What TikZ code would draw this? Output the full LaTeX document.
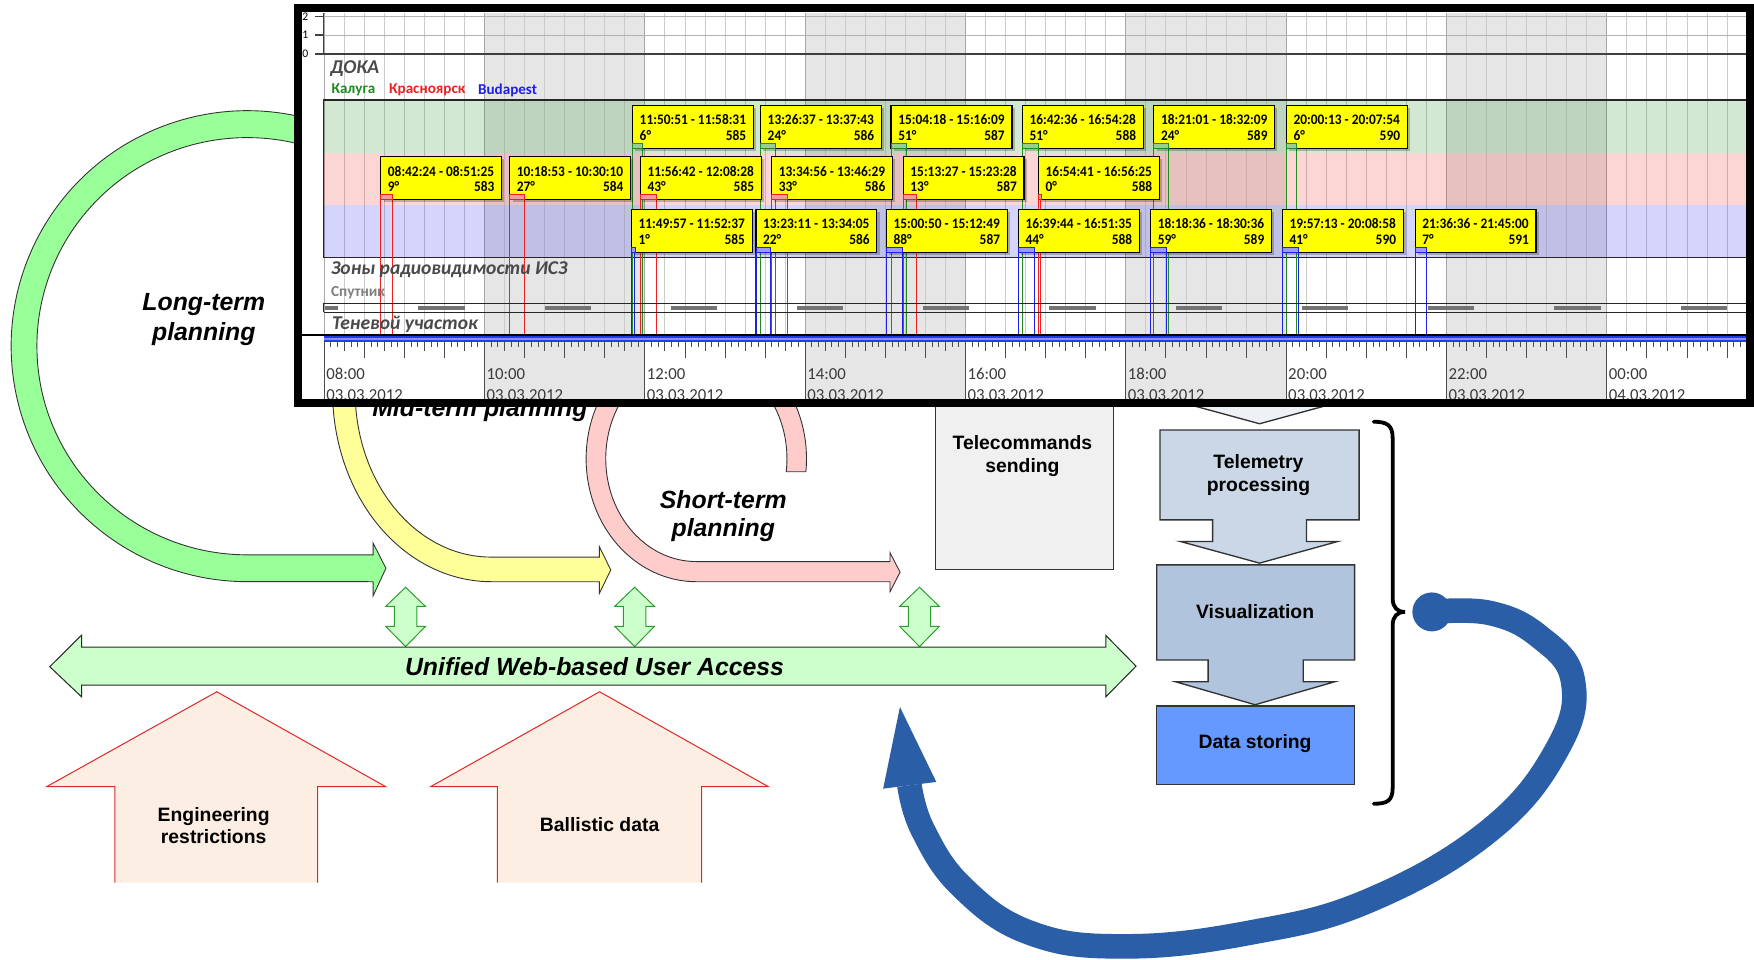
\documentclass[tikz,border=0pt]{standalone}
\usepackage{fontspec}
\setmainfont{Liberation Sans}
\newfontfamily\chartfont{Carlito}
\newfontfamily\chartnarrow{Carlito}[FakeStretch=0.92]

\definecolor{arcgreen}{HTML}{99FF99}
\definecolor{arcyellow}{HTML}{FFFF99}
\definecolor{arcpink}{HTML}{FFCCCC}
\definecolor{accessgreen}{HTML}{CCFFCC}
\definecolor{accessedge}{HTML}{2E9E2E}
\definecolor{inputfill}{HTML}{FCEEE3}
\definecolor{inputedge}{HTML}{E02828}
\definecolor{tmfill}{HTML}{C9D7E6}
\definecolor{tmtop}{HTML}{EEF2F7}
\definecolor{visfill}{HTML}{B0C4DE}
\definecolor{storefill}{HTML}{6699FF}
\definecolor{tcfill}{HTML}{F0F0F0}
\definecolor{loopblue}{HTML}{2A5EA6}
\definecolor{colgray}{HTML}{E6E6E6}
\definecolor{gridgray}{HTML}{CBCBCB}
\definecolor{labelgray}{HTML}{4A4A4A}
\definecolor{axisgray}{HTML}{3A3A3A}
\definecolor{kgreen}{HTML}{1E8C1E}
\definecolor{kred}{HTML}{F02020}
\definecolor{kblue}{HTML}{1E1EF0}
\definecolor{passyellow}{HTML}{FFFF00}
\definecolor{barblue}{HTML}{1E3CF0}

\tikzset{
  planlabel/.style={font=\bfseries\itshape\fontsize{11.1pt}{13pt}\selectfont, inner sep=0},
  boxlabel/.style={font=\bfseries\fontsize{8.65pt}{10.2pt}\selectfont, align=center, inner sep=0},
  arcshape/.style={draw=black!80, line width=0.4pt},
  accessshape/.style={fill=accessgreen, draw=accessedge, line width=0.45pt},
  flowshape/.style={draw=black!80, line width=0.6pt},
  passtext/.style={font=\chartnarrow\bfseries\fontsize{6.5pt}{7.5pt}\selectfont, inner sep=0},
  rowtitle/.style={font=\chartfont\bfseries\itshape\fontsize{8.75pt}{10pt}\selectfont, text=labelgray, inner sep=0, anchor=west},
  legendtext/.style={font=\chartfont\bfseries\fontsize{6.75pt}{8pt}\selectfont, inner sep=0, anchor=west},
  axislabel/.style={font=\chartfont\fontsize{7.5pt}{9pt}\selectfont, text=axisgray, inner sep=0, anchor=west},
}

% passes: start x / end x / row top / colour / times / elevation / orbit
\def\passlist{
565.5/574.7/94/kgreen/11:50:51 - 11:58:31/6/585,
679.9/693.2/94/kgreen/13:26:37 - 13:37:43/24/586,
796.6/810.7/94/kgreen/15:04:18 - 15:16:09/51/587,
914.0/928.1/94/kgreen/16:42:36 - 16:54:28/51/588,
1031.5/1044.8/94/kgreen/18:21:01 - 18:32:09/24/589,
1150.0/1159.2/94/kgreen/20:00:13 - 20:07:54/6/590,
340.4/351.2/140/kred/08:42:24 - 08:51:25/9/583,
455.7/469.2/140/kred/10:18:53 - 10:30:10/27/584,
572.5/586.6/140/kred/11:56:42 - 12:08:28/43/585,
689.8/703.6/140/kred/13:34:56 - 13:46:29/33/586,
807.5/819.4/140/kred/15:13:27 - 15:23:28/13/587,
928.4/930.5/140/kred/16:54:41 - 16:56:25/0/588,
564.4/567.6/187/kblue/11:49:57 - 11:52:37/1/585,
675.8/688.8/187/kblue/13:23:11 - 13:34:05/22/586,
792.4/806.7/187/kblue/15:00:50 - 15:12:49/88/587,
910.5/924.7/187/kblue/16:39:44 - 16:51:35/44/588,
1028.6/1043.0/187/kblue/18:18:36 - 18:30:36/59/589,
1146.4/1160.4/187/kblue/19:57:13 - 20:08:58/41/590,
1265.1/1275.1/187/kblue/21:36:36 - 21:45:00/7/591}

\begin{document}
\begin{tikzpicture}[x=0.5pt,y=-0.5pt]
\useasboundingbox (0,0) rectangle (1568,858);
\fill[white] (0,0) rectangle (1568,858);

% ---------- planning loops ----------
\path[arcshape, fill=arcgreen] (300.0,114.3)
  arc[start angle=-68, end angle=-270, x radius=211, y radius=210.5]
  -- (333.6,520) -- (333.6,532.5) -- (345,508) -- (333.6,485.6) -- (333.6,496) -- (221,496)
  arc[start angle=90, end angle=292, x radius=188, y radius=186.5] -- cycle;

\path[arcshape, fill=arcyellow] (316.3,265)
  arc[start angle=-150, end angle=-270, x radius=141.7, y radius=170]
  -- (535.8,520) -- (535.8,530.4) -- (546,509.5) -- (535.8,488.7) -- (535.8,498) -- (439,498)
  arc[start angle=90, end angle=210, x radius=121.5, y radius=148] -- cycle;

\path[arcshape, fill=arcpink] (720.4,421.7)
  arc[start angle=6.1, end angle=-270, x radius=98.5, y radius=110]
  -- (795.6,520) -- (795.6,529) -- (804.6,511.5) -- (795.6,494) -- (795.6,502) -- (622.5,502)
  arc[start angle=90, end angle=367.3, x radius=81, y radius=92] -- cycle;

\node[planlabel, anchor=base] (longA) at (182.2,277.6) {Long-term};
\node[planlabel, anchor=base] (longB) at (182.2,304.2) {planning};
\node[planlabel, anchor=base] (midlabel) at (429,372.5) {Mid-term planning};
\node[planlabel, anchor=base] (shortA) at (646.6,454.4) {Short-term};
\node[planlabel, anchor=base] (shortB) at (646.6,479.8) {planning};

% ---------- telecommands and incoming telemetry ----------
\path[flowshape, fill=tcfill] (836,340) rectangle (995.5,509);
\node[boxlabel] (tc) at (914,408) {Telecommands\\sending};
\path[flowshape, fill=tmtop] (1057,360) -- (1195,360) -- (1126,378.8) -- cycle;

% ---------- timeline window ----------
\begin{scope}
\clip (269.5,10.5) rectangle (1561.5,356.5);
\fill[white] (269.5,10.5) rectangle (1561.5,356.5);
\foreach \c in {433.1,719.8,1006.4,1293.0}
  \fill[colgray] (\c,12) rectangle ({\c+143.32},356.5);
\foreach \k in {0,...,71}
  \draw[gridgray, line width=0.35pt] ({289.8+17.915*\k},12) -- ({289.8+17.915*\k},299.5);
\foreach \k in {0,8,...,64}
  \draw[black!35, line width=0.4pt] ({289.8+17.915*\k},12) -- ({289.8+17.915*\k},299.5);

% small load chart
\draw[black!30, line width=0.4pt] (289.4,15) -- (1561.5,15);
\draw[black!30, line width=0.4pt] (289.4,31.3) -- (1561.5,31.3);
\draw[black!75, line width=0.8pt] (289.4,48.3) -- (1561.5,48.3);
\draw[black!75, line width=0.5pt] (289.4,12) -- (289.4,48.3);
\foreach \yy/\lab in {15/2,31.3/1,48.3/0}{
  \draw[black!75, line width=0.5pt] (282,\yy) -- (289.4,\yy);
  \node[font=\chartfont\fontsize{5.2pt}{6pt}\selectfont, inner sep=0] (ax\lab) at (273,\yy) {\lab};
}

\node[rowtitle] (doka) at (295,61) {ДОКА};
\node[legendtext, text=kgreen] (lgA) at (296,80.5) {Калуга};
\node[legendtext, text=kred] (lgB) at (347.5,80.5) {Красноярск};
\node[legendtext, text=kblue] (lgC) at (427,80.5) {Budapest};

% station bands
\fill[kgreen, opacity=0.2] (289.4,89.4) rectangle (1561.5,137);
\fill[kred, opacity=0.19] (289.4,137) rectangle (1561.5,183);
\fill[kblue, opacity=0.19] (289.4,183) rectangle (1561.5,230);
\draw[black!85, line width=0.6pt] (289.4,89.4) rectangle (1561.5,230);

% pass boundaries
\foreach \xs/\xe/\yt/\col/\tm/\dg/\ob in \passlist {
  \draw[\col, line width=0.5pt] (\xs,{\yt+38.5}) -- (\xs,299.5);
  \draw[\col, line width=0.5pt] (\xe,{\yt+38.5}) -- (\xe,299.5);
}
% pass boxes
\foreach \xs/\xe/\yt/\col/\tm/\dg/\ob in \passlist {
  \fill[black, opacity=0.22] ({\xs+2.5},{\yt+2.5}) rectangle ({\xs+110.5},{\yt+41});
  \path[fill=passyellow, draw=black, line width=0.55pt] (\xs,\yt) rectangle ({\xs+108},{\yt+38.5});
  \node[passtext, anchor=west] (pa-\ob-\yt) at ({\xs+6},{\yt+13}) {\tm};
  \node[passtext, anchor=west] (pb-\ob-\yt) at ({\xs+6},{\yt+27}) {\dg°};
  \node[passtext, anchor=east] (pc-\ob-\yt) at ({\xs+102},{\yt+27}) {\ob};
  \path[fill=\col!45, draw=\col, line width=0.35pt] (\xs,{\yt+34}) rectangle ({max(\xe,\xs+2.5)},{\yt+38.5});
}

\node[rowtitle] (zones) at (295.5,241) {Зоны радиовидимости ИСЗ};
\node[font=\chartfont\bfseries\fontsize{6.85pt}{8pt}\selectfont, text=black!50, inner sep=0, anchor=west] (sat) at (295.5,261.5) {Спутник};

% shadow strip
\draw[black!85, line width=0.5pt] (289.4,271.2) -- (1561.5,271.2);
\draw[black!85, line width=0.5pt] (289.4,279.2) -- (1561.5,279.2);
\draw[black!85, line width=0.5pt] (289.4,271.2) -- (289.4,279.2);
\fill[black!55] (290.5,273.2) rectangle (302.5,277.2);
\foreach \k in {0,...,10}
  \fill[black!55] ({374+112.83*\k},273.2) rectangle ({374+112.83*\k+41.3},277.2);
\node[rowtitle] (shadow) at (296.5,290.3) {Теневой участок};

% time axis
\draw[black, line width=0.5pt] (269.5,299.5) -- (1561.5,299.5);
\fill[barblue] (289.4,300.2) rectangle (1561.5,306);
\draw[blue!45!white, line width=0.7pt] (289.4,303) -- (1561.5,303);
\foreach \k in {0,...,213}{
  \pgfmathsetmacro\tx{289.8+5.9717*\k}
  \pgfmathsetmacro\tl{ifthenelse(mod(\k,24)==0,52,ifthenelse(mod(\k,6)==0,14,ifthenelse(mod(\k,3)==0,8,4.5)))}
  \draw[black!70, line width=0.35pt] (\tx,306) -- (\tx,{306+\tl});
}
\foreach \i/\hh/\dd in {0/08:00/03.03.2012,1/10:00/03.03.2012,2/12:00/03.03.2012,
  3/14:00/03.03.2012,4/16:00/03.03.2012,5/18:00/03.03.2012,6/20:00/03.03.2012,
  7/22:00/03.03.2012,8/00:00/04.03.2012}{
  \node[axislabel] (hr\i) at ({289.8+143.32*\i+1.5},334.5) {\hh};
  \node[axislabel] (dt\i) at ({289.8+143.32*\i+1.5},353.3) {\dd};
}
\end{scope}
\draw[black, line width=3.5pt] (266.2,7.1) rectangle (1564.6,360);

% ---------- unified access ----------
\foreach \c in {362.6,567.3,822}
  \path[accessshape] (\c,525) -- ({\c+17.7},542) -- ({\c+10},542) -- ({\c+10},560) -- ({\c+17.7},560)
    -- (\c,578) -- ({\c-17.7},560) -- ({\c-10},560) -- ({\c-10},542) -- ({\c-17.7},542) -- cycle;
\path[fill=accessgreen, draw=black!85, line width=0.45pt] (44.5,596) -- (73,567.7) -- (73,578.5) -- (988.5,578.5)
  -- (988.5,568) -- (1015.6,595.5) -- (988.5,623) -- (988.5,612.5) -- (73,612.5) -- (73,623) -- cycle;
\node[planlabel, anchor=base] (access) at (531.5,603.5) {Unified Web-based User Access};

% ---------- inputs ----------
\fill[inputfill] (102.6,789) -- (102.6,703.3) -- (41.6,703.3) -- (193.8,618.4) -- (344.9,703.3) -- (283.9,703.3) -- (283.9,789) -- cycle;
\draw[inputedge, line width=0.45pt] (102.6,789) -- (102.6,703.3) -- (41.6,703.3) -- (193.8,618.4) -- (344.9,703.3) -- (283.9,703.3) -- (283.9,789);
\node[boxlabel] (eng) at (191,738) {Engineering\\restrictions};
\fill[inputfill] (444.7,789) -- (444.7,703.3) -- (384.8,703.3) -- (536,618.4) -- (687,703.3) -- (627.2,703.3) -- (627.2,789) -- cycle;
\draw[inputedge, line width=0.45pt] (444.7,789) -- (444.7,703.3) -- (384.8,703.3) -- (536,618.4) -- (687,703.3) -- (627.2,703.3) -- (627.2,789);
\node[boxlabel] (ball) at (536,737) {Ballistic data};

% ---------- telemetry chain ----------
\path[flowshape, fill=tmfill] (1037,384.4) -- (1215,384.4) -- (1215,464.7) -- (1168,464.7) -- (1168,484)
  -- (1196,484) -- (1126,503.4) -- (1055,484) -- (1084,484) -- (1084,464.7) -- (1037,464.7) -- cycle;
\node[boxlabel] (tm) at (1125,425) {Telemetry\\processing};
\path[flowshape, fill=visfill] (1034,505) -- (1211,505) -- (1211,590) -- (1165,590) -- (1165,609.5)
  -- (1193,609.5) -- (1122,630) -- (1051,609.5) -- (1080,609.5) -- (1080,590) -- (1034,590) -- cycle;
\node[boxlabel] (vis) at (1122,547) {Visualization};
\path[flowshape, fill=storefill] (1034,631) rectangle (1211,701);
\node[boxlabel] (store) at (1122,665) {Data storing};

% brace round the chain
\draw[black, line width=1.7pt, line cap=round] (1228,377) .. controls (1240,377) and (1245,380) .. (1245,392)
  -- (1245,535) .. controls (1245,543) and (1249,547) .. (1256,547)
  .. controls (1249,547) and (1245,551) .. (1245,559)
  -- (1245,704) .. controls (1245,716) and (1240,718.5) .. (1228,718.5);

% ---------- feedback loop ----------
\coordinate (loopstart) at (1280,547);
\coordinate (loopend) at (813,702);
\fill[loopblue] (loopstart) circle[radius=17.4];
\draw[loopblue, line width=11pt] plot[smooth, tension=0.7] coordinates {(loopstart) (1332,548) (1376,569)
  (1406,608) (1393,668) (1332,742) (1224,805) (1116,834) (1005,846) (921,834) (860,793) (825,742) (loopend)};
\fill[loopblue] (789.5,705) -- (804.5,632) -- (837,699) -- cycle;
\end{tikzpicture}
\end{document}
